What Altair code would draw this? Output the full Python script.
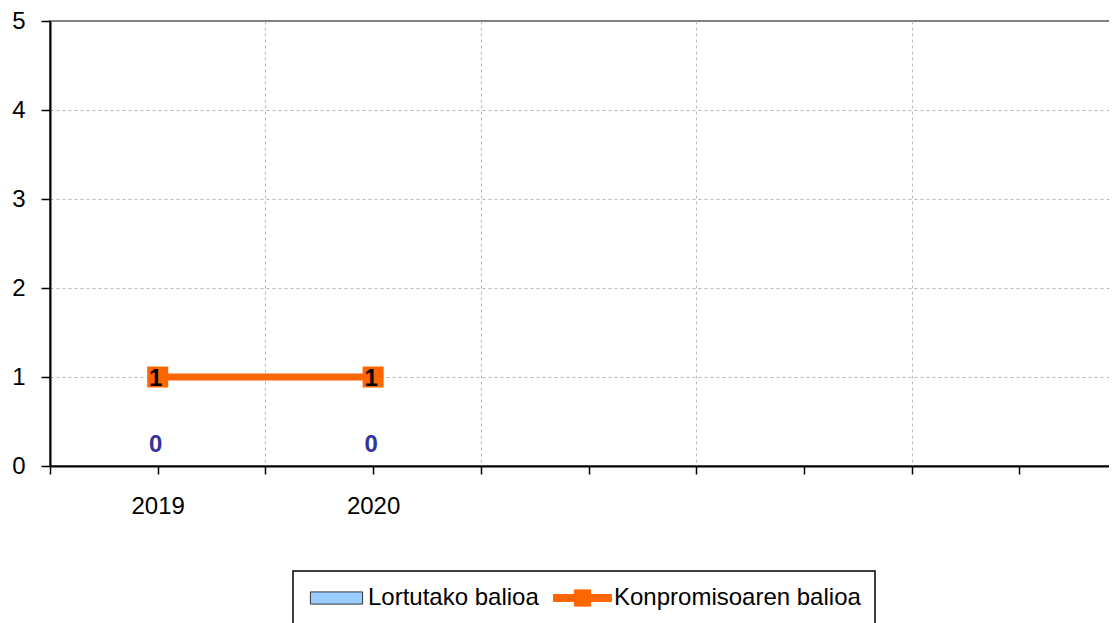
import json
import altair as alt
import pandas as pd

# ---- data ----
categories = ["2019", "2020", "", "", ""]          # x-axis slots (3 empty)
years = ["2019", "2020"]
achieved = [0, 0]                                   # Lortutako balioa
commitment = [1, 1]                                 # Konpromisoaren balioa
series_names = ["Lortutako balioa", "Konpromisoaren balioa"]
series_fill = ["#99CCFF", "#FF6600"]
series_stroke = ["#333333", "#FF6600"]
y_ticks = [0, 1, 2, 3, 4, 5]

idx = [categories.index(y) + 1 for y in years]
df = pd.DataFrame({"year": years, "idx": idx, "achieved": achieved, "commitment": commitment})
legend_df = pd.DataFrame({"series": series_names})

n = len(categories)
x_ticks = [i / 2 for i in range(1, 2 * n + 2)]      # centres and boundaries
FONT = "Liberation Sans"

label_expr = f"datum.value % 1 == 0 ? {json.dumps(categories)}[datum.value - 1] : ''"

x_enc = alt.X(
    "idx:Q",
    scale=alt.Scale(domain=[0.5, n + 0.5], nice=False, zero=False, padding=0),
    axis=alt.Axis(
        values=x_ticks, labelExpr=label_expr, title=None,
        tickSize=8, tickColor="black", tickWidth=1.5,
        domainColor="black", domainWidth=2,
        labelFont=FONT, labelFontSize=24, labelColor="black", labelPadding=20,
        labelFlush=False, labelOverlap=False,
        grid=True, gridColor="#b8b8b8", gridDash=[3, 3], gridWidth=1,
        gridOpacity={"condition": {"test": f"datum.value % 1 != 0 && datum.value > 0.5 && datum.value < {n + 0.5}", "value": 1}, "value": 0},
    ),
)

def y_enc(field):
    return alt.Y(
        f"{field}:Q",
        scale=alt.Scale(domain=[0, 5], nice=False, padding=0),
        axis=alt.Axis(
            values=y_ticks, title=None,
            tickSize=9, tickColor="black", tickWidth=1.5,
            domainColor="black", domainWidth=2,
            labelFont=FONT, labelFontSize=24, labelColor="black", labelPadding=16,
            grid=True, gridColor="#b8b8b8", gridDash=[3, 3], gridWidth=1,
            gridOpacity={"condition": {"test": "datum.value > 0 && datum.value < 5", "value": 1}, "value": 0},
        ),
    )

base = alt.Chart(df)

bars = base.mark_bar(color=series_fill[0], size=60).encode(x=x_enc, y=y_enc("achieved"))
line = base.mark_line(color=series_fill[1], strokeWidth=7).encode(x=x_enc, y=y_enc("commitment"))
squares = base.mark_point(shape="square", filled=True, size=441, color=series_fill[1], opacity=1).encode(
    x=x_enc, y=y_enc("commitment"))
txt_commit = base.mark_text(font=FONT, fontSize=24, fontWeight="bold", color="black",
                            baseline="middle", dy=2, dx=-2).encode(
    x=x_enc, y=y_enc("commitment"), text=alt.Text("commitment:Q"))
txt_ach = base.mark_text(font=FONT, fontSize=24, fontWeight="bold", color="#333399",
                         baseline="middle", dy=-21, dx=-2).encode(
    x=x_enc, y=y_enc("achieved"), text=alt.Text("achieved:Q"))

shape_paths = [
    "M-0.9,-0.21L0.9,-0.21L0.9,0.21L-0.9,0.21Z",
    "M-1,-0.12L1,-0.12L1,0.12L-1,0.12ZM-0.28,-0.28L0.28,-0.28L0.28,0.28L-0.28,0.28Z",
]
leg = alt.Legend(
    orient="none", legendX=243, legendY=550, direction="horizontal", title=None,
    padding=14, strokeColor="black",
    labelFont=FONT, labelFontSize=24, labelColor="black", labelOffset=2, labelLimit=500,
    symbolSize=3364, symbolStrokeWidth=1, columnPadding=14, clipHeight=26,
)
legend_layer = alt.Chart(legend_df).transform_filter("false").mark_point(filled=True, opacity=1).encode(
    shape=alt.Shape("series:N", scale=alt.Scale(domain=series_names, range=shape_paths), legend=leg),
    fill=alt.Fill("series:N", scale=alt.Scale(domain=series_names, range=series_fill), legend=leg),
    stroke=alt.Stroke("series:N", scale=alt.Scale(domain=series_names, range=series_stroke), legend=leg),
)

chart = alt.layer(bars, line, squares, txt_commit, txt_ach, legend_layer).properties(
    width=1077, height=445,
    autosize=alt.AutoSizeParams(type="none"),
    padding={"left": 42, "top": 13, "right": -18, "bottom": 157},
    background="white",
).configure_view(stroke="#808080", strokeWidth=2).configure_legend(strokeWidth=1.5)

chart.save("out.html", embed_options={"renderer": "svg", "actions": False})
